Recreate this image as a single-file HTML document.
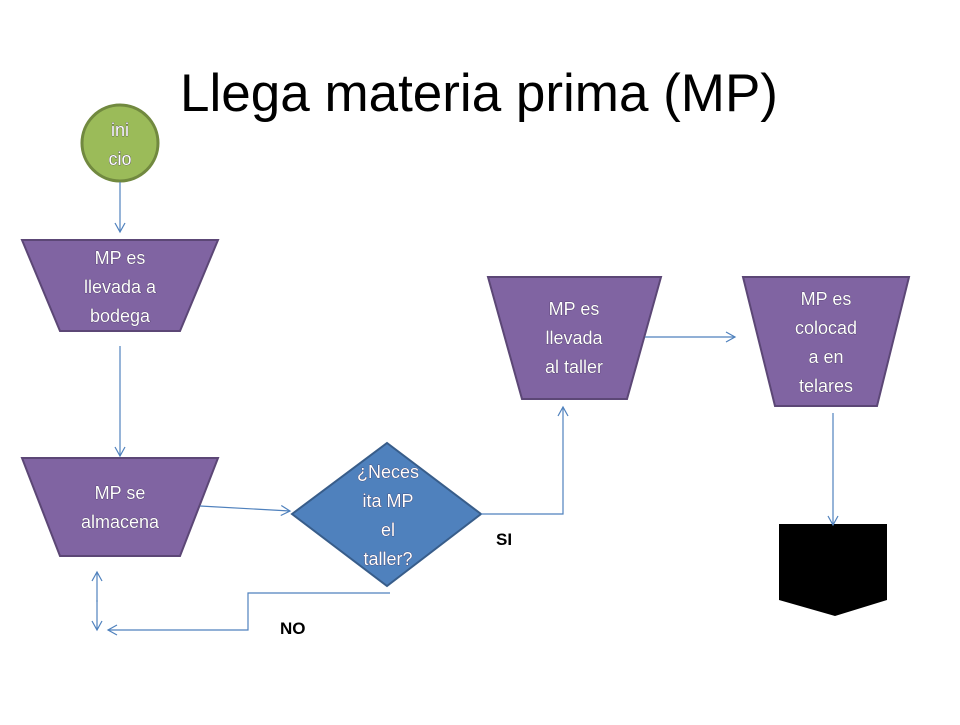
<!DOCTYPE html>
<html><head><meta charset="utf-8"><style>
body{margin:0;background:#fff;}
svg text{font-family:"Liberation Sans",sans-serif;}
.t{fill:#fff;font-size:18px;text-anchor:middle;stroke:#3a2a50;stroke-width:0.6px;paint-order:stroke;}
</style></head><body>
<svg width="960" height="720" viewBox="0 0 960 720" xmlns="http://www.w3.org/2000/svg">
<defs><marker id="a" markerWidth="12" markerHeight="12" refX="10" refY="6" orient="auto" markerUnits="userSpaceOnUse"><path d="M1,1 L10,6 L1,11" fill="none" stroke="#4f81bd" stroke-width="1.2"/></marker></defs>
<text x="479" y="111" font-size="53" text-anchor="middle" fill="#000">Llega materia prima (MP)</text>
<circle cx="120" cy="143" r="38" fill="#9bbb59" stroke="#71893f" stroke-width="3"/>
<text class="t" x="120" y="136">ini</text><text class="t" x="120" y="165">cio</text>
<g fill="#8064a2" stroke="#5c4776" stroke-width="2">
<polygon points="22,240 218,240 180,331 60,331"/>
<polygon points="22,458 218,458 180,556 60,556"/>
<polygon points="488,277 661,277 627,399 522,399"/>
<polygon points="743,277 909,277 877,406 775,406"/>
</g>
<polygon points="292,514 387,443 481,514 387,586" fill="#4f81bd" stroke="#385d8a" stroke-width="2"/>
<polygon points="779,524 887,524 887,600 835,616 779,600" fill="#000"/>
<g class="t">
<text class="t" x="120" y="264">MP es</text><text class="t" x="120" y="293">llevada a</text><text class="t" x="120" y="322">bodega</text>
<text class="t" x="120" y="499">MP se</text><text class="t" x="120" y="528">almacena</text>
<text class="t" x="574" y="315">MP es</text><text class="t" x="574" y="344">llevada</text><text class="t" x="574" y="373">al taller</text>
<text class="t" x="826" y="305">MP es</text><text class="t" x="826" y="334">colocad</text><text class="t" x="826" y="363">a en</text><text class="t" x="826" y="392">telares</text>
<text class="t" x="388" y="478">¿Neces</text><text class="t" x="388" y="507">ita MP</text><text class="t" x="388" y="536">el</text><text class="t" x="388" y="565">taller?</text>
</g>
<g fill="none" stroke="#4f81bd" stroke-width="1.2">
<line x1="120" y1="182" x2="120" y2="232" marker-end="url(#a)"/>
<line x1="120" y1="346" x2="120" y2="456" marker-end="url(#a)"/>
<line x1="200" y1="506" x2="290" y2="511" marker-end="url(#a)"/>
<polyline points="481,514 563,514 563,407" marker-end="url(#a)"/>
<line x1="645" y1="337" x2="735" y2="337" marker-end="url(#a)"/>
<line x1="833" y1="413" x2="833" y2="525" marker-end="url(#a)"/>
<polyline points="390,593 248,593 248,630 108,630" marker-end="url(#a)"/>
<line x1="97" y1="600" x2="97" y2="630" marker-end="url(#a)"/>
<line x1="97" y1="602" x2="97" y2="572" marker-end="url(#a)"/>
</g>
<text x="496" y="545" font-size="17" font-weight="bold">SI</text>
<text x="280" y="634" font-size="17" font-weight="bold">NO</text>
</svg>
</body></html>
